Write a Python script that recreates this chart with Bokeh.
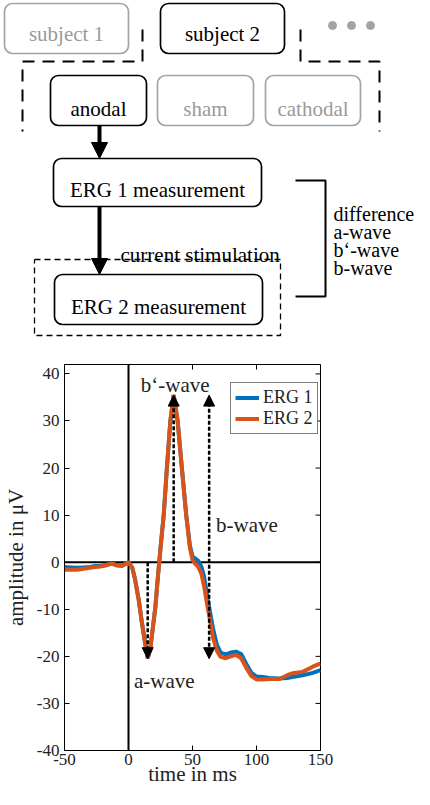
from bokeh.plotting import figure
from bokeh.models import (Range1d, FixedTicker, Span, Arrow, NormalHead, Legend, LegendItem)
from bokeh.core.properties import value
from bokeh.embed import file_html
from bokeh.resources import INLINE

# ---------------- data ----------------
time_ms = [-50, -45, -40, -35, -30, -26, -22, -18, -13, -9, -5, -2, 0, 3, 5, 8, 10.5, 13, 15,
           17, 19, 21, 23, 25, 27.5, 30, 32.7, 35.3, 38.4, 41.7, 45.1, 48, 50, 52, 54.5, 57,
           59, 60.5, 62, 64, 66, 69, 72, 76, 80, 84, 88, 92, 96, 100, 105, 110, 118, 124,
           128, 136, 144, 150]
erg1_uv = [-1.0, -1.1, -1.2, -1.1, -1.0, -0.8, -0.8, -0.6, -0.2, -0.6, -0.7, -0.3, 0.0, -1.2,
           -3.5, -8.0, -12.9, -17.2, -20.4, -18.5, -14.0, -9.5, -3.0, 3.0, 10.0, 20.0, 30.0,
           35.5, 30.0, 20.0, 10.0, 3.5, 1.2, 0.8, 0.3, -1.0, -3.0, -5.5, -8.0, -11.0, -14.0,
           -17.5, -19.2, -19.6, -19.2, -19.0, -19.5, -21.6, -23.5, -24.3, -24.4, -24.6, -24.7,
           -24.6, -24.4, -24.0, -23.5, -22.9]
erg2_uv = [-1.6, -1.6, -1.6, -1.4, -1.2, -1.0, -0.9, -0.7, -0.3, -0.7, -0.8, -0.3, 0.0, -1.2,
           -3.5, -8.0, -12.9, -17.2, -20.4, -18.5, -14.0, -9.5, -3.0, 3.0, 10.0, 20.0, 30.0,
           35.5, 30.0, 20.0, 10.0, 3.0, 0.5, -0.3, -1.0, -2.5, -5.0, -7.5, -9.8, -12.8, -16.0,
           -18.8, -20.1, -20.4, -20.0, -19.7, -20.4, -22.4, -24.2, -24.9, -24.9, -24.8, -24.8,
           -24.0, -23.6, -23.3, -22.2, -21.5]
series_names = ["ERG 1", "ERG 2"]
series_colors = ["#0072BD", "#D95319"]

x_ticks = [-50, 0, 50, 100, 150]
x_tick_labels = ["-50", "0", "50", "100", "150"]
y_ticks = [-40, -30, -20, -10, 0, 10, 20, 30, 40]
y_tick_labels = ["-40", "-30", "-20", "-10", "0", "10", "20", "30", "40"]
x_limits = (-50, 150)
y_limits = (-40, 42)

a_wave_time, a_wave_amp = 15.0, -20.5
b_prime_time, b_prime_amp = 35.3, 35.5
b_wave_time = 63.0

node_labels = ["subject 1", "subject 2", "anodal", "sham", "cathodal",
               "ERG 1 measurement", "ERG 2 measurement"]
node_active = [False, True, True, False, False, True, True]
difference_labels = ["difference", "a-wave", "b\u2018-wave", "b-wave"]

FONT = "Liberation Serif"
GREY = "#A3A3A3"

# ---------------- flowchart (window pixel layout) ----------------
H1 = 350
top = figure(width=414, height=H1, x_range=Range1d(8, 422), y_range=Range1d(0, H1),
             output_backend="svg", toolbar_location=None,
             x_axis_location=None, y_axis_location=None, min_border=0,
             min_border_left=0, min_border_right=0, min_border_top=0, min_border_bottom=0)
top.outline_line_color = None
top.grid.visible = False


def fy(yw):
    return H1 + 8 - yw


box_l = [12, 168, 58, 165, 273, 61, 62]
box_r = [136, 292, 154, 261, 368, 269, 270]
box_t = [11, 11, 83, 83, 83, 166, 282]
box_b = [61, 61, 133, 133, 133, 214, 332]
text_base = [41, 41, 116, 116, 116, 197, 314]
cols = ["black" if a else GREY for a in node_active]
tcols = ["black" if a else "#9A9A9A" for a in node_active]

top.quad(left=box_l, right=box_r, top=[fy(v) for v in box_t], bottom=[fy(v) for v in box_b],
         fill_color="white", line_color=cols, line_width=1.7, border_radius=8)
top.text(x=[(l + r) / 2 for l, r in zip(box_l, box_r)], y=[fy(v) for v in text_base],
         text=node_labels, text_color=tcols, text_font=value(FONT),
         text_font_size=value("21px"), text_align="center", text_baseline="alphabetic")

top.scatter(x=[340, 359, 378], y=[fy(33)] * 3, size=8, marker="circle",
            fill_color=GREY, line_color=GREY)

top.line([150, 150, 30, 30], [fy(37), fy(69), fy(69), fy(139)], line_color="black",
         line_width=2, line_dash="12 8")
top.line([308, 308, 387, 387], [fy(37), fy(69), fy(69), fy(139)], line_color="black",
         line_width=2, line_dash="12 8")

top.line([42, 288, 288, 42, 42], [fy(267), fy(267), fy(343), fy(343), fy(267)],
         line_color="black", line_width=1.3, line_dash="6 4")

top.line([303, 333, 333, 303], [fy(188), fy(188), fy(304), fy(304)], line_color="black",
         line_width=2)

for y0, y1 in ((133, 166), (214, 282)):
    top.add_layout(Arrow(end=NormalHead(size=16, fill_color="black", line_color="black"),
                         x_start=107, y_start=fy(y0), x_end=107, y_end=fy(y1),
                         line_width=4, line_color="black"))

top.text(x=[128], y=[fy(262)], text=["current stimulation"], text_font=value(FONT),
         text_font_size=value("21px"), text_align="left", text_baseline="alphabetic",
         text_color="black")
top.text(x=[341] * 4, y=[fy(v) for v in (221, 239, 257, 275)], text=difference_labels,
         text_font=value(FONT), text_font_size=value("20px"), text_align="left",
         text_baseline="alphabetic", text_color="black")

# ---------------- chart ----------------
p = figure(width=414, height=439, x_range=Range1d(*x_limits), y_range=Range1d(*y_limits),
           output_backend="svg", toolbar_location=None,
           min_border_left=62, min_border_right=94, min_border_top=14, min_border_bottom=39)
p.grid.visible = False
p.outline_line_color = "black"
p.outline_line_width = 1


def style_axis(ax, ticks, labels):
    ax.ticker = FixedTicker(ticks=ticks, minor_ticks=[])
    ax.major_label_overrides = {t: s for t, s in zip(ticks, labels)}
    ax.major_tick_in = 5
    ax.major_tick_out = 0
    ax.minor_tick_in = 0
    ax.minor_tick_out = 0
    ax.axis_line_color = "black"
    ax.axis_line_width = 1
    ax.major_tick_line_color = "black"
    ax.major_label_text_font = FONT
    ax.major_label_text_font_size = "17px"
    ax.major_label_text_color = "#222222"
    ax.axis_label_text_font = FONT
    ax.axis_label_text_font_size = "21px"
    ax.axis_label_text_font_style = "normal"
    ax.axis_label_text_color = "#222222"


xa = p.xaxis[0]
ya = p.yaxis[0]
style_axis(xa, x_ticks, x_tick_labels)
style_axis(ya, y_ticks, y_tick_labels)
xa.axis_label = "time in ms"
xa.major_label_standoff = 3
xa.axis_label_standoff = -6
ya.axis_label = "amplitude in \u03bcV"
ya.major_label_standoff = 5
ya.axis_label_standoff = 6

# mirrored inward ticks on top and right edges (5 px long)
xs_per_px = (x_limits[1] - x_limits[0]) / 258.0
ys_per_px = (y_limits[1] - y_limits[0]) / 386.0
p.segment(x0=x_ticks, y0=[y_limits[1]] * len(x_ticks), x1=x_ticks,
          y1=[y_limits[1] - 5 * ys_per_px] * len(x_ticks), line_color="black", line_width=1)
p.segment(x0=[x_limits[1]] * len(y_ticks), y0=y_ticks,
          x1=[x_limits[1] - 5 * xs_per_px] * len(y_ticks), y1=y_ticks,
          line_color="black", line_width=1)

p.add_layout(Span(location=0, dimension="height", line_color="black", line_width=2,
                  level="underlay"))
p.add_layout(Span(location=0, dimension="width", line_color="black", line_width=2,
                  level="underlay"))

renderers = []
for vals, name, col in zip((erg1_uv, erg2_uv), series_names, series_colors):
    r = p.line(time_ms, vals, line_color=col, line_width=4)
    renderers.append(r)

head = dict(size=11, fill_color="black", line_color="black", line_width=1)
p.add_layout(Arrow(end=NormalHead(**head), x_start=a_wave_time, y_start=0,
                   x_end=a_wave_time, y_end=a_wave_amp, line_dash="4 2", line_width=2.5,
                   line_color="black"))
p.add_layout(Arrow(end=NormalHead(**head), x_start=b_prime_time, y_start=0,
                   x_end=b_prime_time, y_end=b_prime_amp, line_dash="4 2", line_width=2.5,
                   line_color="black"))
p.add_layout(Arrow(start=NormalHead(**head), end=NormalHead(**head), x_start=b_wave_time,
                   y_start=a_wave_amp, x_end=b_wave_time, y_end=b_prime_amp,
                   line_dash="4 2", line_width=2.5, line_color="black"))

p.text(x=[36.5, 68.4, 4.3], y=[37.6, 7.9, -25.2], text=["b\u2018-wave", "b-wave", "a-wave"],
       text_align=["center", "left", "left"], text_baseline="alphabetic",
       text_font=value(FONT), text_font_size=value("21px"), text_color="#222222")

legend = Legend(items=[LegendItem(label=n, renderers=[r]) for n, r in zip(series_names, renderers)],
                location=(166, 316), label_text_font=FONT, label_text_font_size="18px",
                label_text_color="#222222", glyph_width=24, glyph_height=15,
                label_height=20, padding=4, spacing=0, label_standoff=4, margin=0,
                border_line_color="black", border_line_width=1, background_fill_alpha=1)
p.add_layout(legend)

open("out.html", "w").write(file_html([top, p], INLINE))
